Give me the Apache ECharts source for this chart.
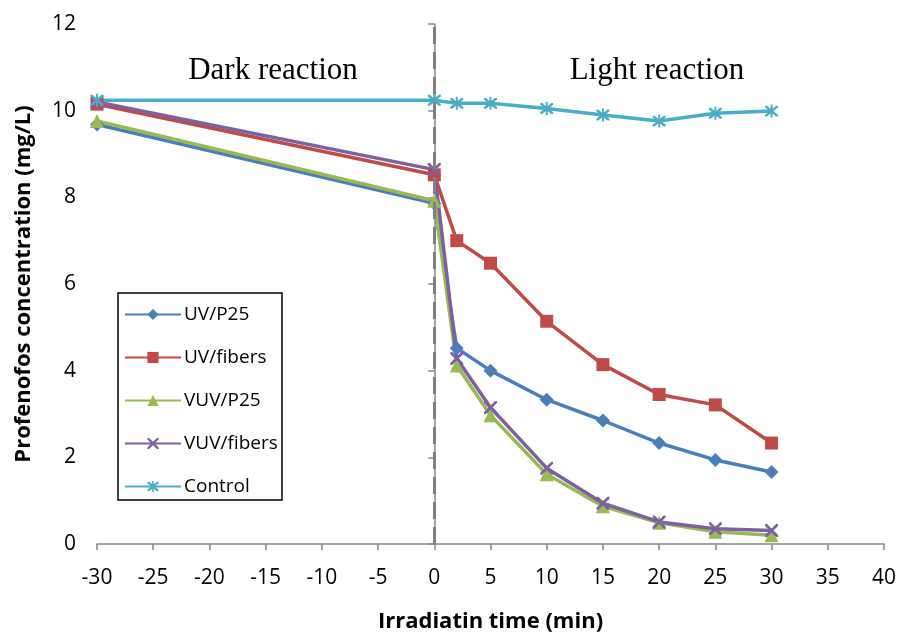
<!DOCTYPE html>
<html><head><meta charset="utf-8">
<script src="https://cdn.jsdelivr.net/npm/echarts@6/dist/echarts.min.js"></script>
<style>html,body{margin:0;padding:0;background:#fff}#c{width:901px;height:635px}</style>
</head><body><div id="c"></div>
<script>
const timesTreated = [-30, 0, 2, 5, 10, 15, 20, 25, 30];
const uvP25     = [9.68, 7.86, 4.52, 4.00, 3.33, 2.85, 2.33, 1.94, 1.66];
const uvFibers  = [10.15, 8.52, 7.00, 6.48, 5.14, 4.14, 3.45, 3.21, 2.33];
const vuvP25    = [9.76, 7.92, 4.12, 2.97, 1.61, 0.87, 0.49, 0.28, 0.20];
const vuvFibers = [10.20, 8.64, 4.28, 3.15, 1.75, 0.94, 0.51, 0.35, 0.31];
const control   = [10.24, 10.24, 10.17, 10.17, 10.05, 9.90, 9.76, 9.94, 9.99];
const seriesNames = ['UV/P25', 'UV/fibers', 'VUV/P25', 'VUV/fibers', 'Control'];
const xTicks = { min: -30, max: 40, interval: 5 };
const yTicks = { min: 0, max: 12, interval: 2 };

const XPATH = 'path://M0,0 L3,0 L10,7 L17,0 L20,0 L20,3 L13,10 L20,17 L20,20 L17,20 L10,13 L3,20 L0,20 L0,17 L7,10 L0,3 Z';
const STARPATH = 'path://M0,0 L3,0 L10,7 L17,0 L20,0 L20,3 L13,10 L20,17 L20,20 L17,20 L10,13 L3,20 L0,20 L0,17 L7,10 L0,3 Z M8.5,-2 L11.5,-2 L11.5,22 L8.5,22 Z';

function pairs(vals){ return timesTreated.map((t,i)=>[t, vals[i]]); }
const FONT = '"Open Sans", "Noto Sans", sans-serif';

function mk(name, vals, color, symbol, size, extra){
  return Object.assign({
    name, type:'line', data: pairs(vals),
    symbol, symbolSize: size,
    lineStyle:{color, width:3.5},
    itemStyle:{color},
    emphasis:{disabled:true},
    animation:false
  }, extra||{});
}

const chart = echarts.init(document.getElementById('c'), null, {renderer:'canvas'});
chart.setOption({
  animation:false,
  grid:{left:97, right:17, top:24, bottom:91, containLabel:false, outerBoundsMode:'none'},
  xAxis:{
    type:'value', min:xTicks.min, max:xTicks.max, interval:xTicks.interval,
    axisLine:{onZero:false, lineStyle:{color:'#868686', width:1.5}},
    axisTick:{show:true, length:6, lineStyle:{color:'#868686', width:1.5}},
    axisLabel:{color:'#000', fontSize:21, fontFamily:FONT, margin:24},
    splitLine:{show:false},
    name:'Irradiatin time (min)', nameLocation:'middle', nameGap:67,
    nameTextStyle:{color:'#000', fontSize:22, fontWeight:'bold', fontFamily:FONT}
  },
  yAxis:{
    type:'value', min:yTicks.min, max:yTicks.max, interval:yTicks.interval,
    axisLine:{show:true, lineStyle:{color:'#868686', width:1.5}},
    axisTick:{show:true, length:6, lineStyle:{color:'#868686', width:1.5}},
    axisLabel:{color:'#000', fontSize:21, fontFamily:FONT, margin:21},
    splitLine:{show:false},
    name:'Profenofos concentration (mg/L)', nameLocation:'middle', nameGap:62, nameRotate:90,
    nameTextStyle:{color:'#000', fontSize:22, fontWeight:'bold', fontFamily:FONT}
  },
  legend:{
    orient:'vertical', left:119, top:299,
    data: seriesNames,
    itemWidth:56, itemHeight:14, itemGap:22,
    textStyle:{color:'#000', fontSize:19, fontFamily:FONT, lineHeight:21, padding:[0,0,0,-2]},
    selectedMode:false
  },
  graphic:[
    {type:'rect', shape:{x:118, y:293, width:164, height:207}, style:{fill:'none', stroke:'#000', lineWidth:1.5}, z:100, silent:true},
    {type:'text', x:273, y:71, style:{text:'Dark reaction', font:'31px "Liberation Serif", "DejaVu Serif", serif', fill:'#000', textAlign:'center', textVerticalAlign:'middle'}, z:100},
    {type:'text', x:657, y:71, style:{text:'Light reaction', font:'31px "Liberation Serif", "DejaVu Serif", serif', fill:'#000', textAlign:'center', textVerticalAlign:'middle'}, z:100}
  ],
  series:[
    mk(seriesNames[0], uvP25, '#4A7EBB', 'diamond', 14, {markLine:{
      silent:true, symbol:'none', label:{show:false}, animation:false,
      lineStyle:{color:'#808080', width:3, type:[17,8]},
      data:[{xAxis:0}]
    }}),
    mk(seriesNames[1], uvFibers, '#BE4B48', 'rect', 13),
    mk(seriesNames[2], vuvP25, '#98B954', 'triangle', 14),
    mk(seriesNames[3], vuvFibers, '#7D60A0', XPATH, 13),
    mk(seriesNames[4], control, '#4BACC6', STARPATH, 13)
  ]
});
</script></body></html>
